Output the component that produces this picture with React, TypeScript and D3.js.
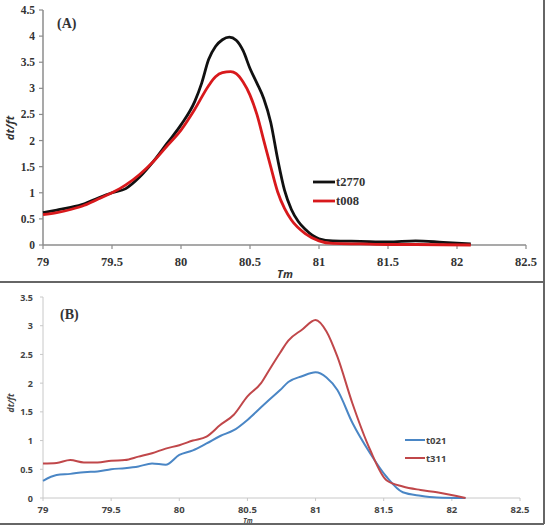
import React from 'react';
import { scaleLinear, line, curveMonotoneX } from 'd3';

const width = 549;
const height = 526;

// panel A data (Tm, dt/ft)
const tmA2770 = [79.0, 79.1, 79.2, 79.3, 79.4, 79.5, 79.6, 79.7, 79.8, 79.9, 80.0, 80.1, 80.15, 80.2, 80.25, 80.3, 80.35, 80.4, 80.45, 80.5, 80.55, 80.6, 80.65, 80.7, 80.75, 80.8, 80.85, 80.9, 81.0, 81.1, 81.3, 81.5, 81.7, 81.9, 82.1];
const valA2770 = [0.62, 0.67, 0.72, 0.79, 0.9, 1.0, 1.08, 1.3, 1.6, 1.95, 2.3, 2.75, 3.1, 3.55, 3.8, 3.93, 3.98, 3.92, 3.72, 3.38, 3.1, 2.8, 2.35, 1.65, 1.05, 0.68, 0.45, 0.3, 0.12, 0.08, 0.07, 0.06, 0.08, 0.05, 0.02];
const tmA008 = [79.0, 79.1, 79.2, 79.3, 79.4, 79.5, 79.6, 79.7, 79.8, 79.9, 80.0, 80.1, 80.2, 80.25, 80.3, 80.36, 80.4, 80.45, 80.5, 80.55, 80.6, 80.65, 80.7, 80.75, 80.8, 80.9, 81.0, 81.1, 81.3, 81.5, 81.7, 82.1];
const valA008 = [0.58, 0.62, 0.68, 0.76, 0.88, 1.0, 1.15, 1.35, 1.6, 1.9, 2.2, 2.6, 3.05, 3.22, 3.3, 3.32, 3.28, 3.12, 2.87, 2.5, 2.0, 1.5, 1.02, 0.7, 0.48, 0.22, 0.08, 0.03, 0.02, 0.01, 0.01, 0.0];

// panel B data
const tmB = [79.0, 79.1, 79.2, 79.3, 79.4, 79.5, 79.6, 79.7, 79.8, 79.9, 80.0, 80.1, 80.2, 80.3, 80.4, 80.5, 80.6, 80.66, 80.74, 80.8, 80.9, 81.0, 81.08, 81.16, 81.27, 81.4, 81.52, 81.64, 81.77, 81.89, 82.1];
const valB021 = [0.3, 0.4, 0.42, 0.45, 0.46, 0.5, 0.52, 0.55, 0.6, 0.58, 0.75, 0.83, 0.95, 1.08, 1.18, 1.36, 1.58, 1.71, 1.88, 2.02, 2.12, 2.19, 2.1, 1.88, 1.31, 0.78, 0.37, 0.1, 0.04, 0.01, 0.0];
const valB311 = [0.6, 0.61, 0.66, 0.62, 0.62, 0.65, 0.66, 0.72, 0.78, 0.86, 0.92, 1.0, 1.07, 1.27, 1.45, 1.77, 2.0, 2.23, 2.53, 2.74, 2.93, 3.1, 2.9, 2.46, 1.65, 0.84, 0.31, 0.2, 0.14, 0.1, 0.0];

const xTicks = [79, 79.5, 80, 80.5, 81, 81.5, 82, 82.5];
const yTicksA = [0, 0.5, 1, 1.5, 2, 2.5, 3, 3.5, 4, 4.5];
const yTicksB = [0, 0.5, 1, 1.5, 2, 2.5, 3, 3.5];

const xA = scaleLinear().domain([79, 82.5]).range([43, 526]);
const yA = scaleLinear().domain([0, 4.5]).range([245, 10]);
const xB = scaleLinear().domain([79, 82.5]).range([43, 520]);
const yB = scaleLinear().domain([0, 3.5]).range([498, 297]);

const pathOf = (xs: number[], ys: number[], sx: any, sy: any) =>
  line<number>()
    .x((_, i) => sx(xs[i]))
    .y((d) => sy(d))
    .curve(curveMonotoneX)(ys) as string;

const axisGrey = '#8c8c8c';
const serif = 'Liberation Serif, DejaVu Serif, serif';
const sans = 'Open Sans, Liberation Sans, sans-serif';

const App = () => (
  <svg width={width} height={height} style={{ position: 'absolute', left: 0, top: 0, background: '#fff' }}>
    {/* frame */}
    <line x1={544} y1={0} x2={544} y2={524} stroke="#666" strokeWidth={2} />
    <line x1={0} y1={282} x2={544} y2={282} stroke="#666" strokeWidth={2} />
    <line x1={0} y1={524} x2={544} y2={524} stroke="#666" strokeWidth={2} />

    {/* panel A */}
    <g fontWeight="bold" fill="#333">
      <line x1={xA(79)} y1={yA(0)} x2={xA(79)} y2={yA(4.5)} stroke={axisGrey} strokeWidth={1.5} />
      <line x1={xA(79)} y1={yA(0)} x2={xA(82.5)} y2={yA(0)} stroke={axisGrey} strokeWidth={1.5} />
      {yTicksA.map((t) => (
        <g key={t}>
          <line x1={xA(79) - 4} x2={xA(79)} y1={yA(t)} y2={yA(t)} stroke={axisGrey} strokeWidth={1.2} />
          <text x={xA(79) - 8} y={yA(t) + 4} textAnchor="end" fontSize={11.5} fontFamily={serif}>{t}</text>
        </g>
      ))}
      {xTicks.map((t) => (
        <g key={t}>
          <line x1={xA(t)} x2={xA(t)} y1={yA(0)} y2={yA(0) + 4} stroke={axisGrey} strokeWidth={1.2} />
          <text x={xA(t)} y={yA(0) + 21} textAnchor="middle" fontSize={12.5} fontFamily={serif}>{t}</text>
        </g>
      ))}
      <text x={57} y={28} fontSize={14} fontFamily={serif}>(A)</text>
      <text x={285} y={278} textAnchor="middle" fontSize={11} fontStyle="italic" fontFamily={sans}>Tm</text>
      <text transform="translate(14,128) rotate(-90)" textAnchor="middle" fontSize={11} fontStyle="italic" fontFamily={sans}>dt/ft</text>
      <path d={pathOf(tmA2770, valA2770, xA, yA)} fill="none" stroke="#111" strokeWidth={2.8} />
      <path d={pathOf(tmA008, valA008, xA, yA)} fill="none" stroke="#d8191c" strokeWidth={2.8} />
      <line x1={313} x2={335} y1={182} y2={182} stroke="#111" strokeWidth={2.8} />
      <text x={336} y={186} fontSize={12.5} fontFamily={serif}>t2770</text>
      <line x1={313} x2={335} y1={201} y2={201} stroke="#d8191c" strokeWidth={2.8} />
      <text x={336} y={205} fontSize={12.5} fontFamily={serif}>t008</text>
    </g>

    {/* panel B */}
    <g fontFamily={sans} fontWeight="bold" fill="#444">
      <line x1={xB(79)} y1={yB(0)} x2={xB(79)} y2={yB(3.5)} stroke="#c8c8c8" strokeWidth={1} />
      <line x1={xB(79)} y1={yB(0)} x2={xB(82.5)} y2={yB(0)} stroke="#c8c8c8" strokeWidth={1} />
      {yTicksB.map((t) => (
        <g key={t}>
          <line x1={xB(79) - 3} x2={xB(79)} y1={yB(t)} y2={yB(t)} stroke="#c8c8c8" />
          <text x={xB(79) - 10} y={yB(t) + 3.5} textAnchor="end" fontSize={9}>{t}</text>
        </g>
      ))}
      {xTicks.map((t) => (
        <g key={t}>
          <line x1={xB(t)} x2={xB(t)} y1={yB(0)} y2={yB(0) + 3} stroke="#c8c8c8" />
          <text x={xB(t)} y={yB(0) + 15} textAnchor="middle" fontSize={9.5}>{t}</text>
        </g>
      ))}
      <text x={60} y={319} fontSize={14} fontFamily={serif} fill="#333">(B)</text>
      <text x={248} y={522.5} textAnchor="middle" fontSize={6.5} fontStyle="italic">Tm</text>
      <text transform="translate(14,403) rotate(-90)" textAnchor="middle" fontSize={8.5} fontStyle="italic">dt/ft</text>
      <path d={pathOf(tmB, valB021, xB, yB)} fill="none" stroke="#4a86c5" strokeWidth={2} />
      <path d={pathOf(tmB, valB311, xB, yB)} fill="none" stroke="#c0474a" strokeWidth={2} />
      <line x1={405} x2={425} y1={440} y2={440} stroke="#4a86c5" strokeWidth={2} />
      <text x={426} y={443.5} fontSize={9.5}>t021</text>
      <line x1={405} x2={425} y1={458} y2={458} stroke="#c0474a" strokeWidth={2} />
      <text x={426} y={461.5} fontSize={9.5}>t311</text>
    </g>
  </svg>
);

export default App;
